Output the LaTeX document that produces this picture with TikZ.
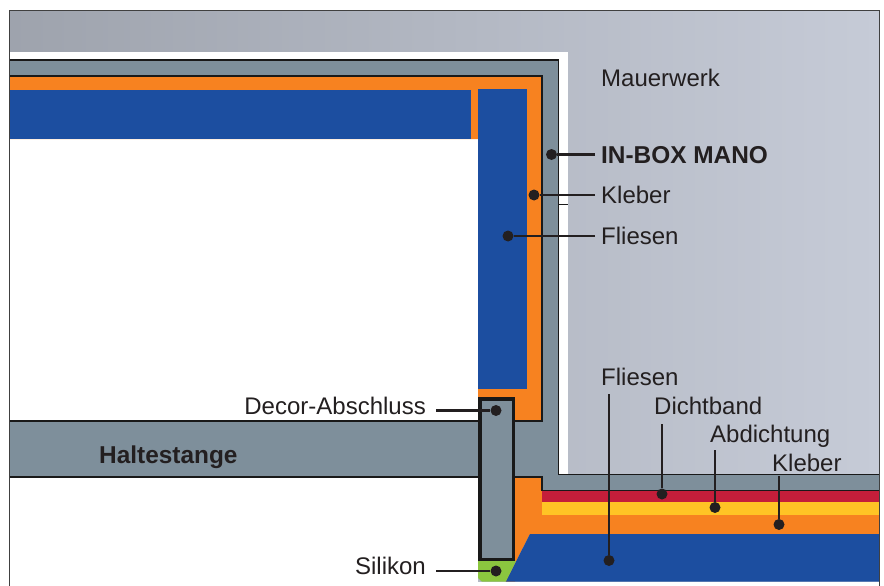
\documentclass[tikz,border=0pt]{standalone}
\usepackage{fontspec}
\setmainfont{Liberation Sans}
\definecolor{grau}{RGB}{126,143,155}
\definecolor{klebergelb}{RGB}{247,130,32}
\definecolor{fliese}{RGB}{28,78,160}
\definecolor{dichtrot}{RGB}{196,30,58}
\definecolor{abdichtgelb}{RGB}{255,196,37}
\definecolor{silikon}{RGB}{139,198,63}
\definecolor{mauerlinks}{RGB}{158,163,173}
\definecolor{mauermitte}{RGB}{169,175,188}
\definecolor{mauerrechts}{RGB}{198,203,215}
\definecolor{tinte}{RGB}{35,31,32}
\tikzset{
  bez/.style={font=\fontsize{24}{28}\selectfont,text=tinte,inner sep=0pt,anchor=base west},
  bezfett/.style={bez,font=\fontsize{24.4}{28}\selectfont\bfseries},
  pkt/.style={circle,fill=tinte,inner sep=0pt,minimum size=11pt},
  leit/.style={draw=tinte,line width=2.2pt},
  kante/.style={draw=black!90,line width=1.6pt},
}
\begin{document}
\begin{tikzpicture}[x=1pt,y=-1pt]
        \useasboundingbox (0, 0) rectangle (884, 586);
        % Mauerwerk
        \shade[left color=mauerlinks,middle color=mauermitte,right color=mauerrechts] (9.5, 11) rectangle (879, 581.7);
        \fill[white] (9.5, 52) -- (568, 52) -- (568, 474) -- (9.5, 474) -- cycle;
        \fill[white] (9.5, 474) rectangle (478, 586);
        % IN-BOX MANO
        \fill[grau] (9.5, 59.5) -- (558.5, 59.5) -- (558.5, 474.5) -- (879, 474.5) -- (879, 491)
            -- (542, 491) -- (542, 477) -- (9.5, 477) -- (9.5, 421) -- (542, 421) -- (542, 76) -- (9.5, 76) -- cycle;
        % Kleber und Fliesen Wand
        \fill[klebergelb] (9.5, 76) -- (542, 76) -- (542, 421) -- (478, 421) -- (478, 139) -- (9.5, 139) -- cycle;
        \fill[fliese] (9.5, 90) rectangle (471, 139);
        \fill[fliese] (478, 89) rectangle (527, 389);
        % Boden
        \fill[klebergelb] (515, 477) -- (542, 477) -- (542, 490) -- (879, 490) -- (879, 534) -- (530, 534) -- (505.7, 581.7) -- (515, 581.7) -- cycle;
        \fill[dichtrot] (542, 491) rectangle (879, 502);
        \fill[abdichtgelb] (542, 502) rectangle (879, 515);
        \fill[fliese] (530, 534) -- (879, 534) -- (879, 581.7) -- (505.7, 581.7) -- cycle;
        \fill[silikon] (478, 561) -- (516, 561) -- (505.7, 581.7) -- (482, 581.7) -- (478, 578) -- cycle;
        % Kanten
        \draw[kante] (9.5, 60) -- (558.5, 60) -- (558.5, 474.5) -- (879, 474.5);
        \draw[kante] (9.5, 76) -- (542, 76) -- (542, 421) -- (515, 421);
        \draw[kante] (9.5, 421) -- (478, 421);
        \draw[kante] (9.5, 477) -- (478, 477);
        \draw[kante] (515, 477) -- (542, 477) -- (542, 490.5) -- (879, 490.5);
        \draw[kante] (558, 204.5) -- (568, 204.5);
        \draw[black!75,line width=1pt] (9.5, 586) -- (9.5, 11) -- (879, 11) -- (879, 586);
        % Decor-Abschluss
        \filldraw[fill=grau,draw=black!90,line width=3.5pt] (480, 399) rectangle (513.5, 559.5);
        % Beschriftung
        \node[bez] (mauerwerk) at (601, 86) {Mauerwerk};
        \node[bezfett] (inbox) at (601, 163) {IN-BOX MANO};
        \node[bez] (kleberwand) at (601, 203) {Kleber};
        \node[bez] (fliesenwand) at (601, 244) {Fliesen};
        \node[bez] (fliesenboden) at (601, 385) {Fliesen};
        \node[bez] (dichtband) at (654, 414) {Dichtband};
        \node[bez] (abdichtung) at (710, 442) {Abdichtung};
        \node[bez] (kleberboden) at (772, 471) {Kleber};
        \node[bez,anchor=base east] (decor) at (426, 414) {Decor-Abschluss};
        \node[bez,anchor=base east] (silikonlabel) at (426, 574) {Silikon};
        \node[bezfett] (haltestange) at (99, 463) {Haltestange};
        % Punkte
        \node[pkt] (pinbox) at (551.5, 154.5) {};
        \node[pkt] (pkleberwand) at (534, 195) {};
        \node[pkt] (pfliesenwand) at (508, 236) {};
        \node[pkt] (pdecor) at (496, 410.5) {};
        \node[pkt] (psilikon) at (496, 571) {};
        \node[pkt] (pfliesenboden) at (609, 560.5) {};
        \node[pkt] (pdichtband) at (662, 494) {};
        \node[pkt] (pabdichtung) at (715, 507.5) {};
        \node[pkt] (pkleberboden) at (779, 524.5) {};
        % freie Enden
        \coordinate (einbox) at (595, 154.5);
        \coordinate (ekleberwand) at (595, 195);
        \coordinate (efliesenwand) at (595, 236);
        \coordinate (edecor) at (436, 410.5);
        \coordinate (esilikon) at (436, 571);
        \coordinate (efliesenboden) at (609, 394);
        \coordinate (edichtband) at (662, 424);
        \coordinate (eabdichtung) at (715, 450);
        \coordinate (ekleberboden) at (779, 476);
        % Leitlinien
        \draw[leit] (einbox) -- (pinbox);
        \draw[leit] (ekleberwand) -- (pkleberwand);
        \draw[leit] (efliesenwand) -- (pfliesenwand);
        \draw[leit] (edecor) -- (pdecor);
        \draw[leit] (esilikon) -- (psilikon);
        \draw[leit] (efliesenboden) -- (pfliesenboden);
        \draw[leit] (edichtband) -- (pdichtband);
        \draw[leit] (eabdichtung) -- (pabdichtung);
        \draw[leit] (ekleberboden) -- (pkleberboden);
    \end{tikzpicture}
\end{document}
